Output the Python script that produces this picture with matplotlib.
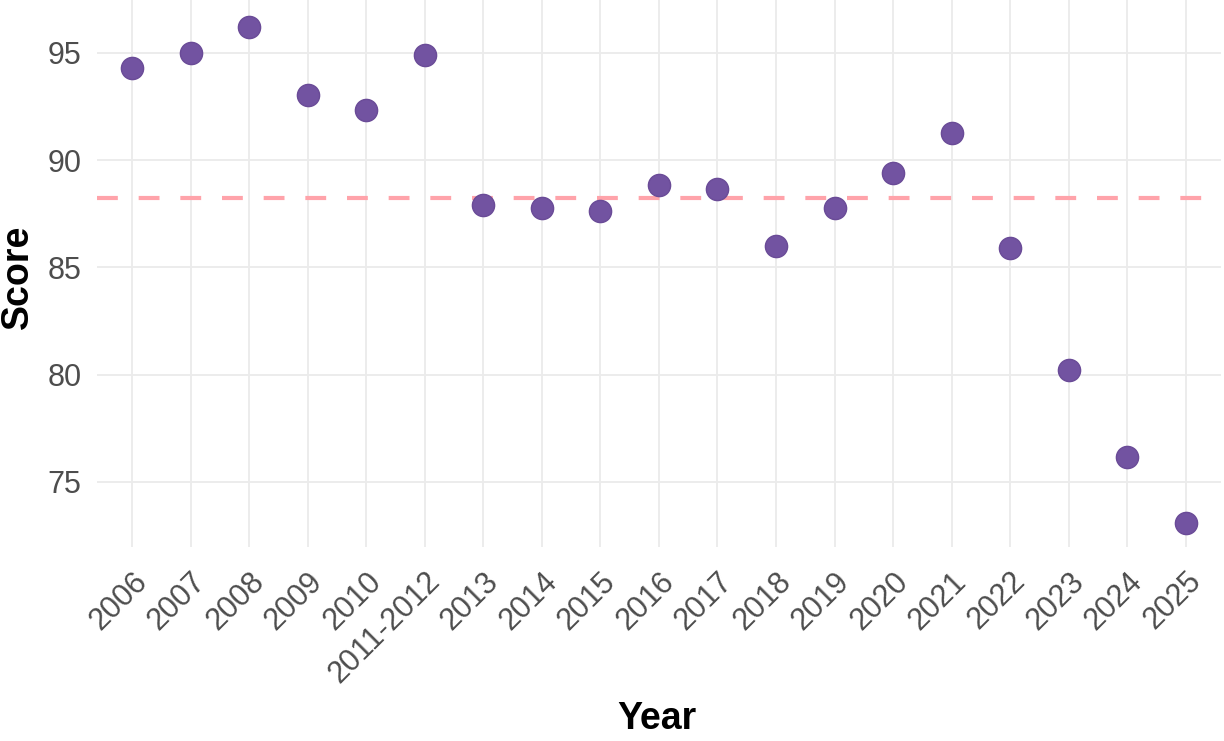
import numpy as np
import matplotlib.pyplot as plt

plt.rcParams['font.family'] = ['Liberation Sans', 'DejaVu Sans']

years = ["2006", "2007", "2008", "2009", "2010", "2011-2012", "2013", "2014",
         "2015", "2016", "2017", "2018", "2019", "2020", "2021", "2022",
         "2023", "2024", "2025"]
scores = [94.3, 95.0, 96.2, 93.05, 92.35, 94.9, 87.9, 87.75, 87.65, 88.85,
          88.65, 86.0, 87.75, 89.4, 91.25, 85.9, 80.2, 76.15, 73.1]
mean_score = np.mean(scores)

fig = plt.figure(figsize=(12.24, 7.41), dpi=100)
ax = fig.add_axes([0.0792, 0.262, 0.9183, 0.738])

x = np.arange(len(years))
ax.axhline(mean_score, color="#FFA3AA", lw=3, dashes=(5, 5), zorder=2)
ax.plot(x, scores, "o", ms=16, color="#7253A1", mec="#6A4B97", mew=1, zorder=3)

ax.set_xlim(-0.6, len(years) - 1 + 0.6)
ax.set_ylim(71.97, 97.47)
ax.set_xticks(x)
ax.set_xticklabels(years, rotation=45, ha="right", rotation_mode="anchor")
ax.set_yticks([75, 80, 85, 90, 95])

ax.grid(True, color="#EBEBEB", lw=1.3, zorder=0)
ax.set_axisbelow(True)
for s in ax.spines.values():
    s.set_visible(False)
ax.tick_params(length=0, labelsize=22, labelcolor="#4D4D4D")
ax.tick_params(axis="y", pad=11)
ax.tick_params(axis="x", pad=14)

fig.text(0.537, 0.03, "Year", fontsize=27, fontweight="bold",
         ha="center", va="center")
fig.text(0.015, 0.627, "Score", fontsize=27, fontweight="bold",
         ha="center", va="center", rotation=90)

fig.savefig("out.png", dpi=100)
